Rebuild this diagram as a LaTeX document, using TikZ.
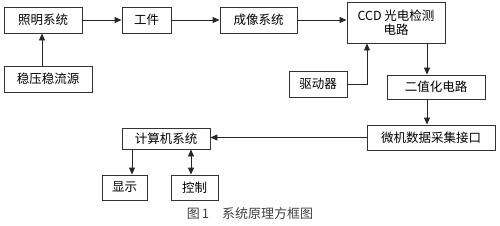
\documentclass[tikz,border=0pt]{standalone}
\usepackage{fontspec}
\newfontfamily\cjk{Noto Sans CJK SC}
\usetikzlibrary{
    arrows.meta,
    positioning
}

\begin{document}
\begin{tikzpicture}[
        x=1pt, y=-1pt,
        every node/.style={
            font=\cjk\fontsize{12.5pt}{14.5pt}\selectfont
        },
        block/.style={
            rectangle,
            draw=black!80,
            line width=0.9pt,
            inner sep=0pt,
            minimum height=26pt,
            align=center
        },
        arrow/.style={
            -{Triangle[length=7pt,width=6pt]},
            line width=0.9pt,
            draw=black!85
        }
    ]

    \useasboundingbox (0,0) rectangle (500,225);

    % top row
    \node[block, minimum width=78pt] (light) at (43,20) {照明系统};
    \node[block, minimum width=49pt] (work) at (146.5,20) {工件};
    \node[block, minimum width=77pt] (imaging) at (258.5,20) {成像系统};
    \node[block, minimum width=98pt, minimum height=41pt] (ccd) at (396,22.5)
        {CCD 光电检测\\电路};

    \node[block, minimum width=88pt] (power) at (48,79) {稳压稳流源};
    \node[block, minimum width=58pt] (driver) at (318,84) {驱动器};
    \node[block, minimum width=98pt, minimum height=24pt] (binary) at (436,87)
        {二值化电路};

    % lower part
    \node[block, minimum width=128pt, minimum height=25pt] (daq) at (431,137.5)
        {微机数据采集接口};
    \node[block, minimum width=88pt, minimum height=21pt] (pc) at (166,138.5)
        {计算机系统};
    \node[block, minimum width=45pt, minimum height=25pt] (disp) at (124.5,187.5)
        {显示};
    \node[block, minimum width=47pt, minimum height=25pt] (ctrl) at (194.5,187.5)
        {控制};

    \node[font=\cjk\fontsize{13pt}{15pt}\selectfont, text=black!75] (caption) at (250,214)
        {图\,1\quad 系统原理方框图};

    \draw[arrow] ([xshift=-6pt]power.north) -- ([xshift=-6pt]power.north |- light.south);
    \draw[arrow] (light) -- (work);
    \draw[arrow] (work) -- (imaging);
    \draw[arrow] (imaging.east) -- (imaging.east -| ccd.west);
    \draw[arrow] (driver.east) -| ([xshift=-29pt]ccd.south);
    \draw[arrow] ([xshift=-9pt]binary.north |- ccd.south) -- ([xshift=-9pt]binary.north);
    \draw[arrow] ([xshift=-9pt]binary.south) -- ([xshift=-9pt]binary.south |- daq.north);
    \draw[arrow] (daq.west) -- (daq.west -| pc.east);
    \draw[arrow] ([xshift=7.5pt]disp.north |- pc.south) -- ([xshift=7.5pt]disp.north);
    \draw[{Triangle[length=7pt,width=6pt]}-{Triangle[length=7pt,width=6pt]},
        line width=0.9pt, draw=black!85]
        ([xshift=-3.5pt]ctrl.north |- pc.south) -- ([xshift=-3.5pt]ctrl.north);

\end{tikzpicture}
\end{document}
